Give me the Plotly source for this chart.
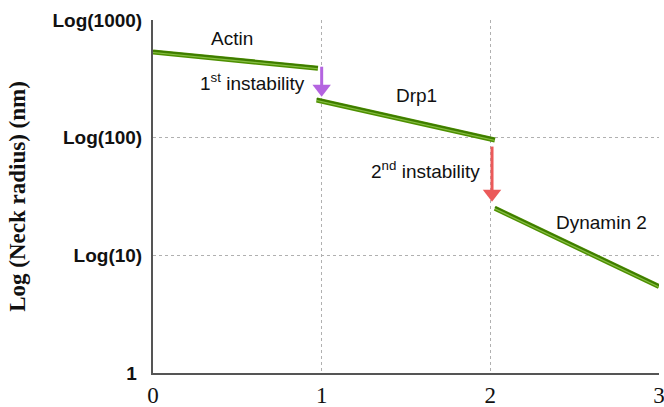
import math
import plotly.graph_objects as go

# Segments (x start, x end, y start, y end) in nm
seg_names = ["Actin", "Drp1", "Dynamin 2"]
seg_x0 = [0.0, 0.97, 2.027]
seg_x1 = [0.978, 2.027, 3.0]
seg_y0 = [535, 209, 25.1]
seg_y1 = [389, 95.5, 5.43]

# Arrows (x, shaft top, head center)
arrow_x = [1.0, 2.01]
arrow_top = [401, 84]
arrow_head = [260, 33.4]
arrow_colors = ["#b464e0", "#eb5a5a"]

# Labels
label_text = ["Actin", "1<sup>st</sup> instability", "Drp1", "2<sup>nd</sup> instability", "Dynamin 2"]
label_x = [0.471, 0.590, 1.563, 1.618, 2.662]
label_y = [690, 297, 229, 53, 19.2]

ytick_vals = [1, 10, 100, 1000]
ytick_text = ["1&nbsp;", "Log(10)", "Log(100)", "Log(1000)"]
xtick_vals = [0, 1, 2, 3]

fig = go.Figure()

for i in range(len(seg_names)):
    for w, c, off in [(5, "#4e9000", 1.0), (1.5, "#3d7a00", 1.025), (1.2, "#86bd45", 0.99)]:
        fig.add_trace(go.Scatter(
            x=[seg_x0[i], seg_x1[i]], y=[seg_y0[i] * off, seg_y1[i] * off],
            mode="lines", line=dict(color=c, width=w), showlegend=False, hoverinfo="skip"))

for i in range(len(arrow_x)):
    fig.add_trace(go.Scatter(
        x=[arrow_x[i], arrow_x[i]], y=[arrow_top[i], arrow_head[i]],
        mode="lines", line=dict(color=arrow_colors[i], width=3),
        showlegend=False, hoverinfo="skip"))
    fig.add_trace(go.Scatter(
        x=[arrow_x[i]], y=[arrow_head[i]], mode="markers",
        marker=dict(symbol="triangle-down", size=16, color=arrow_colors[i]),
        showlegend=False, hoverinfo="skip"))

for t, x, y in zip(label_text, label_x, label_y):
    fig.add_annotation(x=x, y=math.log10(y), text=t, showarrow=False,
                       font=dict(family="Liberation Sans, Arial", size=19, color="#111"))

fig.update_layout(
    width=664, height=407,
    margin=dict(l=153, r=5, t=20, b=34),
    plot_bgcolor="white", paper_bgcolor="white",
    xaxis=dict(range=[0, 3], tickvals=xtick_vals, showgrid=True, gridcolor="#b0b0b0",
               griddash="dot", gridwidth=1, zeroline=False, showline=True,
               linecolor="#555", linewidth=2, ticks="", ticklabeloverflow="allow",
               ticklabelstandoff=0, automargin=False,
               tickfont=dict(family="Liberation Serif, Times New Roman", size=23, color="#111")),
    yaxis=dict(type="log", range=[0, 3], tickvals=ytick_vals, ticktext=ytick_text,
               showgrid=True, gridcolor="#b0b0b0", griddash="dot", gridwidth=1,
               zeroline=False, showline=True, linecolor="#555", linewidth=2, ticks="",
               ticklabelstandoff=5,
               tickfont=dict(family="Liberation Sans, Arial", size=19, color="#111", weight="bold"),
               title=dict(text="<b>Log (Neck radius) (nm)</b>", standoff=20,
                          font=dict(family="Liberation Serif, Times New Roman", size=23, color="#111"))),
)

fig.write_html("out.html")
